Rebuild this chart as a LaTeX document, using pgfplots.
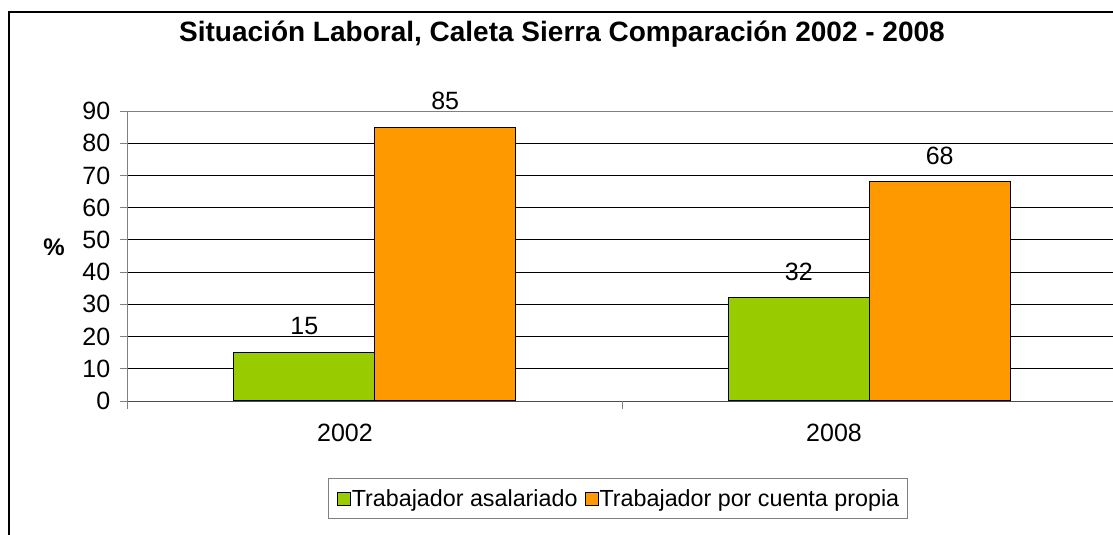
\documentclass[border=0pt]{standalone}
\usepackage{pgfplots}
\pgfplotsset{compat=1.18}
\usepackage{fontspec}
\setmainfont{Liberation Sans}
\definecolor{barGreen}{HTML}{99CC00}
\definecolor{barOrange}{HTML}{FF9900}
\definecolor{axgray}{HTML}{808080}
\begin{document}
\begin{tikzpicture}
\begin{axis}[
  at={(127.5bp,134bp)}, anchor=south west,
  scale only axis, width=985.5bp, height=290bp,
  xmin=-0.5, xmax=1.4929, ymin=0, ymax=90,
  ybar, bar width=0.285,
  axis x line*=bottom, axis y line*=left,
  axis line style={axgray, line width=1bp},
  x axis line style={draw=black!70},
  /pgf/number format/assume math mode=true,
  tick label style={font=\fontsize{25bp}{30bp}\selectfont},
  ytick={0,10,...,90},
  ymajorgrids, major grid style={black, line width=0.9bp},
  tick align=outside, major tick length=8bp,
  ytick style={axgray, line width=1bp},
  yticklabel style={anchor=east, inner sep=0pt, xshift=-9bp},
  xtick={-0.0602,0.9287}, xticklabels={2002,2008},
  xtick style={draw=none},
  xticklabel style={anchor=north, inner sep=0pt, yshift=-15bp},
  extra x ticks={-0.5,0.5}, extra x tick labels={},
  extra x tick style={xtick style={draw=axgray, line width=1bp}, grid=none},
  title={Situación Laboral, Caleta Sierra Comparación 2002 - 2008},
  title style={font=\bfseries\fontsize{28bp}{34bp}\selectfont, at={(axis description cs:0.4409,1.2207)}, anchor=base, inner sep=0pt},
  ylabel={\%},
  ylabel style={font=\bfseries\fontsize{24bp}{28bp}\selectfont, rotate=-90, at={(axis description cs:-0.0746,0.531)}, anchor=center, inner sep=0pt},
  nodes near coords,
  nodes near coords style={font=\fontsize{25bp}{30bp}\selectfont, inner sep=0pt, anchor=south, yshift=17bp, black},
  legend columns=2,
  legend image code/.code={\draw[#1, line width=1bp] (0bp,-6.5bp) rectangle (13bp,6.5bp);},
  legend style={at={(axis cs:0.4919,-30.26)}, anchor=center, draw=axgray, line width=1bp,
    font=\fontsize{23.3bp}{28bp}\selectfont, inner xsep=8bp, inner ysep=10.5bp,
    nodes={inner sep=0pt},
    /tikz/every even column/.append style={column sep=7bp},
    /tikz/every odd column/.append style={column sep=1bp}},
]
\addplot[fill=barGreen, draw=black, line width=1.2bp, bar shift=-0.1425] coordinates {(0,15) (1,32)};
\addlegendentry{Trabajador asalariado}
\addplot[fill=barOrange, draw=black, line width=1.2bp, bar shift=0.1425] coordinates {(0,85) (1,68)};
\addlegendentry{Trabajador por cuenta propia}
\draw[axgray, line width=1bp] (rel axis cs:0,1) -- (rel axis cs:1,1);
\end{axis}
\draw[black, line width=1.8bp] (9bp,0bp) -- (9bp,523bp) -- (1113bp,523bp);
\pgfresetboundingbox
\path[use as bounding box] (0bp,0bp) rectangle (1113bp,535bp);
\end{tikzpicture}
\end{document}
